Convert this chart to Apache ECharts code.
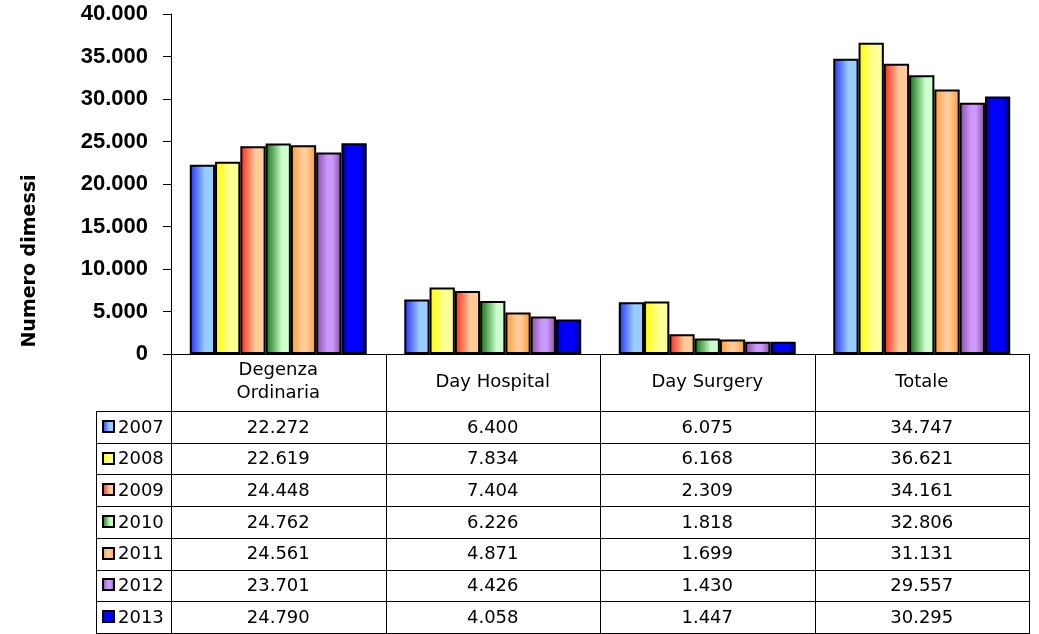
<!DOCTYPE html>
<html><head><meta charset="utf-8">
<script src="https://cdn.jsdelivr.net/npm/echarts@6/dist/echarts.min.js"></script>
<style>html,body{margin:0;padding:0;background:#fff}#c{width:1039px;height:634px}</style>
</head><body><div id="c"></div>
<script>
// ---- data ----
const categories = ['Degenza\nOrdinaria', 'Day Hospital', 'Day Surgery', 'Totale'];
const years = ['2007', '2008', '2009', '2010', '2011', '2012', '2013'];
const v2007 = [22272, 6400, 6075, 34747];
const v2008 = [22619, 7834, 6168, 36621];
const v2009 = [24448, 7404, 2309, 34161];
const v2010 = [24762, 6226, 1818, 32806];
const v2011 = [24561, 4871, 1699, 31131];
const v2012 = [23701, 4426, 1430, 29557];
const v2013 = [24790, 4058, 1447, 30295];
const seriesValues = [v2007, v2008, v2009, v2010, v2011, v2012, v2013];
const yAxisTitle = 'Numero dimessi';

// ---- styles ----
const gradStops = [
  [['#2020ff', 0], ['#3a4cff', 0.12], ['#99ccff', 0.6], ['#99ccff', 1]],
  [['#ffff00', 0], ['#ffff22', 0.15], ['#ffff99', 0.6], ['#ffff99', 1]],
  [['#ff2a2a', 0], ['#ff4433', 0.12], ['#ffcc99', 0.6], ['#ffcc99', 1]],
  [['#1f7a1f', 0], ['#2f8a2f', 0.12], ['#ccffcc', 0.65], ['#ccffcc', 1]],
  [['#ff9933', 0], ['#ffcc99', 0.45], ['#ffcc99', 0.6], ['#ff9933', 1]],
  [['#8a4aa0', 0], ['#cc99ff', 0.45], ['#cc99ff', 0.65], ['#8a4aa0', 1]],
  [['#000070', 0], ['#0000ff', 0.25], ['#0000ff', 0.7], ['#000070', 1]]
];
function grad(i) {
  return { type: 'linear', x: 0, y: 0, x2: 1, y2: 0,
    colorStops: gradStops[i].map(s => ({ color: s[0], offset: s[1] })) };
}
function fmt(n) {
  return String(n).replace(/\B(?=(\d{3})+(?!\d))/g, '.');
}
const TXT = '18px "DejaVu Sans"';
const GRID = { left: 171, top: 14, right: 10, bottom: 280 };
const HEADER_BOTTOM = 411, TABLE_BOTTOM = 633, TABLE_LEFT = 96;

const chart = echarts.init(document.getElementById('c'), null, { renderer: 'canvas' });
chart.setOption({
  animation: false,
  backgroundColor: '#fff',
  grid: { left: GRID.left, top: GRID.top, right: GRID.right, bottom: GRID.bottom, containLabel: false },
  xAxis: {
    type: 'category', data: categories,
    axisLine: { lineStyle: { color: '#000', width: 1 } },
    axisTick: { show: false },
    axisLabel: { interval: 0, color: '#000', fontFamily: 'DejaVu Sans', fontSize: 18,
      margin: 28, verticalAlign: 'middle', lineHeight: 23 }
  },
  yAxis: {
    type: 'value', min: 0, max: 40000, interval: 5000,
    axisLine: { show: true, lineStyle: { color: '#000', width: 1 } },
    axisTick: { show: true, inside: false, length: 8, lineStyle: { color: '#000' } },
    splitLine: { show: false },
    axisLabel: { color: '#000', fontFamily: 'Liberation Sans', fontWeight: 'bold', fontSize: 22,
      margin: 23, formatter: v => fmt(v) }
  },
  series: years.map((y, i) => ({
    name: y, type: 'bar', data: seriesValues[i], barGap: '0%', barCategoryGap: '17.5%',
    itemStyle: { color: grad(i), borderColor: '#000', borderWidth: 2 }
  }))
});

// ---- data table drawn from the arrays ----
const centers = categories.map((c, j) => chart.convertToPixel({ xAxisIndex: 0 }, j));
const bw = centers[1] - centers[0];
const bounds = [centers[0] - bw / 2].concat(centers.map(c => c + bw / 2));
const axisY = chart.convertToPixel({ yAxisIndex: 0 }, 0);
const rowH = (TABLE_BOTTOM - HEADER_BOTTOM) / years.length;
const els = [];
function line(x1, y1, x2, y2) {
  els.push({ type: 'line', shape: { x1, y1, x2, y2 }, style: { stroke: '#000', lineWidth: 1 }, silent: true });
}
function text(x, y, t, align, font) {
  els.push({ type: 'text', x, y, silent: true,
    style: { text: t, font: font || TXT, fill: '#000', align: align || 'center', verticalAlign: 'middle',
      textAlign: align || 'center', textVerticalAlign: 'middle' } });
}
const R = Math.round;
bounds.forEach(b => line(R(b) + 0.5, axisY, R(b) + 0.5, TABLE_BOTTOM + 0.5));
line(TABLE_LEFT + 0.5, HEADER_BOTTOM + 0.5, TABLE_LEFT + 0.5, TABLE_BOTTOM + 0.5);
for (let i = 0; i <= years.length; i++) {
  const y = R(HEADER_BOTTOM + i * rowH) + 0.5;
  line(TABLE_LEFT, y, R(bounds[bounds.length - 1]) + 1, y);
}
years.forEach((yr, i) => {
  const cy = HEADER_BOTTOM + (i + 0.5) * rowH;
  els.push({ type: 'rect', shape: { x: TABLE_LEFT + 7, y: R(cy) - 6, width: 11, height: 11 },
    style: { fill: new echarts.graphic.LinearGradient(0, 0, 1, 0, gradStops[i].map(s => ({ offset: s[1], color: s[0] }))),
      stroke: '#000', lineWidth: 2 }, silent: true });
  text(TABLE_LEFT + 22, cy + 1, yr, 'left');
  seriesValues[i].forEach((v, j) => text(centers[j], cy + 1, fmt(v), 'center'));
});
els.push({ type: 'text', x: 30, y: 261, rotation: Math.PI / 2, silent: true,
  style: { text: yAxisTitle, font: 'bold 19px "DejaVu Sans"', fill: '#000', align: 'center', verticalAlign: 'middle',
    textAlign: 'center', textVerticalAlign: 'middle' } });
chart.setOption({ graphic: { elements: els } });
</script>
</body></html>
